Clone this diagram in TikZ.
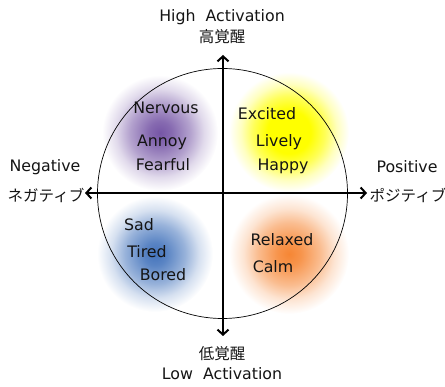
\documentclass[tikz,border=0pt]{standalone}
\usepackage{fontspec}
\setmainfont{DejaVu Sans}
\newfontfamily\jp{Noto Sans CJK JP}
\usetikzlibrary{arrows.meta}
\definecolor{blobP}{RGB}{118,86,166}
\definecolor{blobY}{RGB}{255,255,0}
\definecolor{blobB}{RGB}{68,116,188}
\definecolor{blobO}{RGB}{246,134,52}
\pgfdeclareradialshading{shP}{\pgfpoint{0bp}{0bp}}{color(0bp)=(blobP); color(5bp)=(blobP!88!white); color(13bp)=(blobP!55!white); color(19bp)=(blobP!22!white); color(25bp)=(white); color(50bp)=(white)}
\pgfdeclareradialshading{shY}{\pgfpoint{0bp}{0bp}}{color(0bp)=(blobY); color(9bp)=(blobY); color(15bp)=(blobY!65!white); color(20bp)=(blobY!25!white); color(25bp)=(white); color(50bp)=(white)}
\pgfdeclareradialshading{shB}{\pgfpoint{0bp}{0bp}}{color(0bp)=(blobB); color(5bp)=(blobB!88!white); color(13bp)=(blobB!55!white); color(19bp)=(blobB!22!white); color(25bp)=(white); color(50bp)=(white)}
\pgfdeclareradialshading{shO}{\pgfpoint{0bp}{0bp}}{color(0bp)=(blobO); color(5bp)=(blobO!88!white); color(13bp)=(blobO!55!white); color(19bp)=(blobO!22!white); color(25bp)=(white); color(50bp)=(white)}
\tikzset{
  lbl/.style={inner sep=0pt, font=\fontsize{15.8}{18}\selectfont, text=black!92},
  jlbl/.style={inner sep=0pt, font=\jp\fontsize{15.5}{18}\selectfont, text=black!92},
  axisarrow/.style={line width=2pt, {Straight Barb[length=5pt,width=11pt]}-{Straight Barb[length=5pt,width=11pt]}},
}
\begin{document}
\begin{tikzpicture}[x=1pt,y=-1pt]
\useasboundingbox (0,0) rectangle (445,387);
% blobs
\shade[shading=shP] (160,133) circle (58);
\shade[shading=shY] (289,132) circle (60);
\shade[shading=shB] (155,254) circle (58);
\shade[shading=shO] (289,254) circle (60);
% circle
\coordinate (c) at (222.5,193.5);
\draw[line width=0.7pt] (c) circle (125);
% axes
\coordinate (top) at (223,55);
\coordinate (bot) at (223,336);
\coordinate (lft) at (85,193);
\coordinate (rgt) at (367,193);
\draw[axisarrow] (bot) -- (top);
\draw[axisarrow] (lft) -- (rgt);
% axis labels
\node[lbl] (hi) at (222,17) {High~~Activation};
\node[jlbl] (hiJ) at (222,37) {高覚醒};
\node[jlbl] (loJ) at (222,354) {低覚醒};
\node[lbl] (lo) at (222,374) {Low~~Activation};
\node[lbl] (neg) at (45,167) {Negative};
\node[jlbl] (negJ) at (46,195) {ネガティブ};
\node[lbl] (pos) at (407,167) {Positive};
\node[jlbl] (posJ) at (408,195) {ポジティブ};
% quadrant words
\node[lbl] (nervous) at (166,108) {Nervous};
\node[lbl] (annoy) at (162,142) {Annoy};
\node[lbl] (fearful) at (163,165) {Fearful};
\node[lbl] (excited) at (267,114) {Excited};
\node[lbl] (lively) at (279,142) {Lively};
\node[lbl] (happy) at (283,166) {Happy};
\node[lbl] (sad) at (139,225) {Sad};
\node[lbl] (tired) at (147,252) {Tired};
\node[lbl] (bored) at (163,275) {Bored};
\node[lbl] (relaxed) at (282,240) {Relaxed};
\node[lbl] (calm) at (273,267) {Calm};
\end{tikzpicture}
\end{document}
